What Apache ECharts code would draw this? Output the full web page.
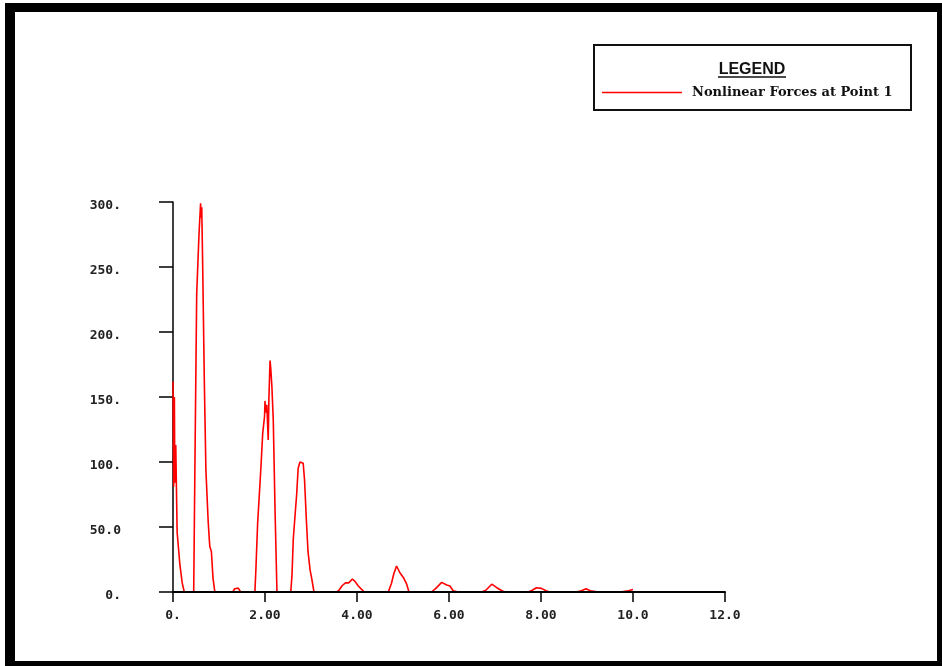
<!DOCTYPE html>
<html>
<head>
<meta charset="utf-8">
<script src="https://cdn.jsdelivr.net/npm/echarts@6/dist/echarts.min.js"></script>
<style>
  html, body { margin: 0; padding: 0; background: #fff; }
  #frame {
    position: absolute; left: 5px; top: 3px; width: 937px; height: 663px;
    box-sizing: border-box; border-style: solid; border-color: #000;
    border-width: 9px 5px 5px 10px;
  }
  #chart { position: absolute; left: 0; top: 0; width: 942px; height: 666px; }
</style>
</head>
<body>
<div id="frame"></div>
<div id="chart"></div>
<script>
// time axis (x) and force values (y)
const times = [
  0, 0.015, 0.03, 0.04, 0.06, 0.09, 0.15, 0.2, 0.245, 0.45,
  0.478, 0.515, 0.565, 0.60, 0.61, 0.625, 0.645, 0.68, 0.715, 0.765, 0.79, 0.80, 0.835, 0.87, 0.91,
  1.30, 1.34, 1.42, 1.47, 1.78,
  1.80, 1.84, 1.91, 1.95, 1.99, 2.00, 2.01, 2.04, 2.07, 2.085, 2.11, 2.125, 2.15, 2.18, 2.22, 2.26,
  2.56, 2.587, 2.615, 2.69, 2.72, 2.76, 2.80, 2.83, 2.86, 2.90, 2.935, 2.98, 3.015, 3.065,
  3.55, 3.6, 3.68, 3.75, 3.82, 3.9, 3.96, 4.02, 4.1, 4.16,
  4.68, 4.75, 4.8, 4.86, 4.93, 5.01, 5.08, 5.13,
  5.62, 5.72, 5.84, 5.95, 6.02, 6.09, 6.2,
  6.71, 6.8, 6.93, 7.04, 7.15, 7.22,
  7.72, 7.8, 7.9, 8.01, 8.12, 8.2,
  8.76, 8.88, 8.98, 9.07, 9.25,
  9.72, 9.9, 10.0
];
const forces = [
  162, 81, 150, 84, 113, 46, 21, 7, 0, 0,
  102.8, 229, 275, 299, 288, 296, 252, 164, 94, 54, 40, 35, 31, 10.5, 0,
  0, 2.5, 3, 0, 0,
  15.6, 53, 95, 122, 135, 147, 138, 144, 117, 149, 178, 172, 158, 132, 60.5, 0,
  0, 13, 41, 76, 95, 100, 101.5, 99, 86, 55, 31, 17, 10.5, 0,
  0, 1, 5, 7, 7, 10, 8, 5, 2, 0,
  0, 6.7, 14, 20, 15, 11, 6, 0,
  0, 3, 7.4, 5.4, 4.6, 1, 0,
  0, 1.3, 6, 3.3, 1, 0,
  0, 1.2, 3.3, 2.8, 0.8, 0,
  0, 1, 2.5, 1, 0,
  0, 1, 2
];

const xTickLabels = ['0.', '2.00', '4.00', '6.00', '8.00', '10.0', '12.0'];
const yTickLabels = ['0.', '50.0', '100.', '150.', '200.', '250.', '300.'];
const seriesName = 'Nonlinear Forces at Point 1';

const chart = echarts.init(document.getElementById('chart'));

const tickFont = { fontFamily: 'DejaVu Sans Mono', fontWeight: 'bold', fontSize: 13, color: '#222' };

const option = {
  animation: false,
  grid: { left: 173, top: 202, right: 217, bottom: 74 },
  xAxis: {
    type: 'value',
    min: 0,
    max: 12,
    interval: 2,
    z: 10,
    axisLine: { lineStyle: { color: '#000', width: 2 } },
    axisTick: { length: 10, lineStyle: { color: '#000', width: 1.5 } },
    axisLabel: {
      ...tickFont,
      margin: 17,
      formatter: v => xTickLabels[Math.round(v / 2)]
    },
    splitLine: { show: false }
  },
  yAxis: {
    type: 'value',
    min: 0,
    max: 300,
    interval: 50,
    axisLine: { show: true, lineStyle: { color: '#000', width: 1.5 } },
    axisTick: { show: true, length: 14, lineStyle: { color: '#000', width: 1.5 } },
    axisLabel: {
      ...tickFont,
      margin: 52,
      verticalAlign: 'top',
      lineHeight: 7,
      formatter: v => yTickLabels[Math.round(v / 50)]
    },
    splitLine: { show: false }
  },
  legend: {
    left: 602,
    top: 86,
    padding: 0,
    icon: 'rect',
    itemWidth: 80,
    itemHeight: 1.5,
    textStyle: {
      fontFamily: 'DejaVu Serif',
      fontWeight: 'bold',
      fontSize: 13,
      color: '#111',
      padding: [0, 0, 0, 5]
    },
    data: [seriesName]
  },
  graphic: [
    {
      type: 'rect',
      shape: { x: 594, y: 45, width: 317, height: 65 },
      style: { fill: 'none', stroke: '#111', lineWidth: 2 }
    },
    {
      type: 'text',
      x: 752,
      y: 70,
      style: {
        text: 'LEGEND',
        font: 'bold 16px "Liberation Sans"',
        fill: '#111',
        align: 'center',
        verticalAlign: 'middle'
      }
    },
    {
      type: 'line',
      shape: { x1: 718, y1: 77, x2: 786, y2: 77 },
      style: { stroke: '#111', lineWidth: 1.5 }
    }
  ],
  series: [
    {
      name: seriesName,
      type: 'line',
      z: 1,
      data: times.map((t, i) => [t, forces[i]]),
      symbol: 'none',
      lineStyle: { color: '#ff0000', width: 1.6 },
      itemStyle: { color: '#ff0000' }
    }
  ]
};

chart.setOption(option);
</script>
</body>
</html>
